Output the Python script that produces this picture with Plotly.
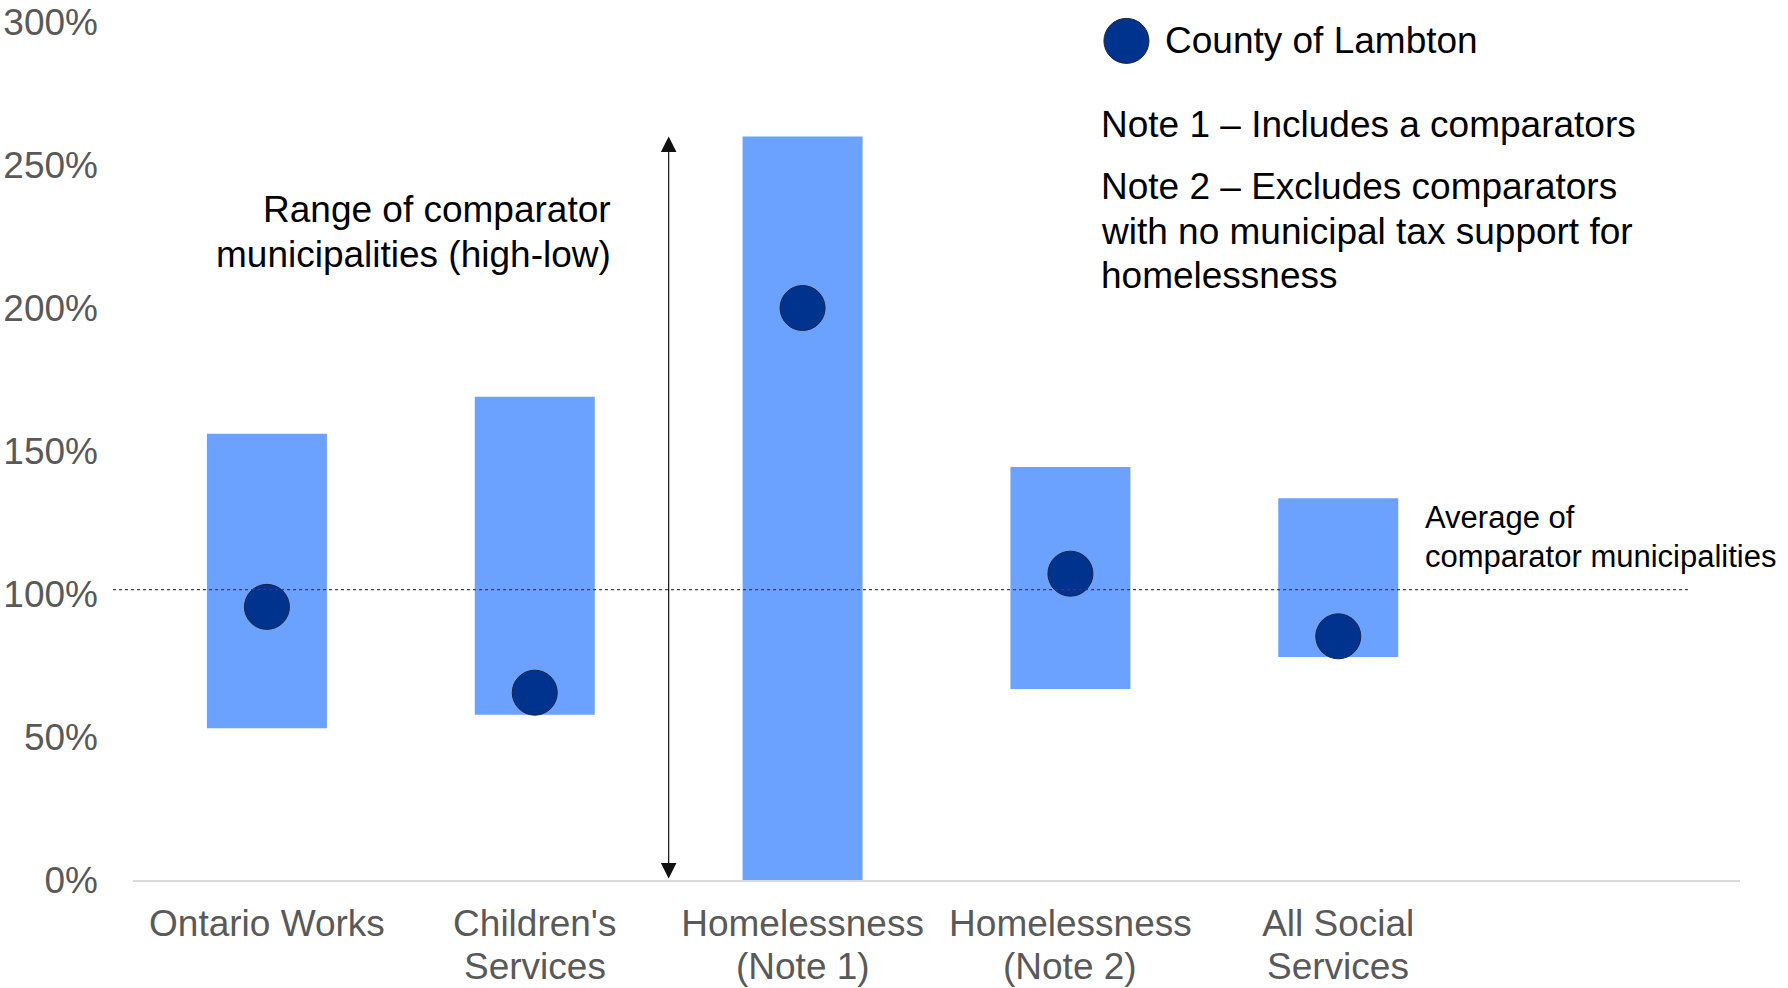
import plotly.graph_objects as go

categories = ["Ontario Works", "Children's<br>Services", "Homelessness<br>(Note 1)",
              "Homelessness<br>(Note 2)", "All Social<br>Services"]
range_low = [53.1, 57.8, 0.0, 66.8, 78.0]
range_high = [156.0, 169.0, 260.0, 144.4, 133.5]
lambton = [95.5, 65.5, 200.0, 107.1, 85.2]
average_line = 101.5
y_ticks = [0, 50, 100, 150, 200, 250, 300]
y_tick_labels = [f"{v}%" for v in y_ticks]

range_text = ["Range of comparator", "municipalities (high-low)"]
note1_text = "Note 1 – Includes a comparators"
note2_text = ["Note 2 – Excludes comparators", "with no municipal tax support for", "homelessness"]
average_text = ["Average of", "comparator municipalities"]
legend_text = "County of Lambton"

xpos = list(range(len(categories)))
FONT = "Arial, Liberation Sans, sans-serif"
BAR = "#6BA1FF"
DOT = "#00338D"
BLACK = "#000000"
GREY = "#595959"

fig = go.Figure()
fig.add_trace(go.Bar(
    x=xpos, y=[h - l for h, l in zip(range_high, range_low)], base=range_low,
    width=0.448, marker=dict(color=BAR, line=dict(width=0)), showlegend=False,
    hoverinfo="skip"))
fig.add_trace(go.Scatter(
    x=xpos, y=lambton, mode="markers", name=legend_text,
    marker=dict(size=45, color=DOT, line=dict(color="#1a2540", width=1)),
    showlegend=False))

# average line
fig.add_shape(type="line", xref="paper", yref="y", x0=-0.0124, x1=0.9676,
              y0=average_line, y1=average_line,
              line=dict(color="#404040", width=1.2, dash="dot"))

# range arrow (spans the Homelessness Note 1 range)
fig.add_annotation(x=1.5, y=range_high[2], ax=1.5, ay=range_low[2],
                   xref="x", yref="y", axref="x", ayref="y", text="",
                   showarrow=True, arrowhead=2, startarrowhead=2, arrowside="end+start",
                   arrowsize=2.6, startarrowsize=2.6, arrowwidth=1.2, arrowcolor="#111111")

# legend (drawn manually for a large marker)
fig.add_shape(type="circle", xref="paper", yref="paper", xsizemode="pixel", ysizemode="pixel",
              xanchor=0.6182, yanchor=0.978, x0=-22.5, x1=22.5, y0=-22.5, y1=22.5,
              fillcolor=DOT, line=dict(color="#1a2540", width=1))


def txt(x, y, s, size, xanchor="left", xref="paper", color=BLACK):
    fig.add_annotation(xref=xref, yref="paper", x=x, y=y, xanchor=xanchor, yanchor="middle",
                       align="left" if xanchor == "left" else xanchor, text=s, showarrow=False,
                       font=dict(family=FONT, size=size, color=color))


txt(0.641, 0.979, legend_text, 37)
txt(0.6014, 0.880, note1_text, 37)
for s, y in zip(note2_text, [0.8082, 0.7564, 0.7045]):
    txt(0.6014, y, s, 37)
for s, y in zip(range_text, [0.7809, 0.7296]):
    txt(0.299, y, s, 37, xanchor="right")
for s, y in zip(average_text, [0.4221, 0.3770]):
    txt(0.803, y, s, 31)

# category labels: first line as tick label, second line set just beneath it
first_lines = [c.split("<br>")[0] for c in categories]
for x, c in zip(xpos, categories):
    parts = c.split("<br>")
    if len(parts) > 1:
        txt(x, -0.101, parts[1], 37, xanchor="center", xref="x", color=GREY)

fig.update_layout(
    width=1788, height=988,
    margin=dict(l=133, r=48, t=22, b=108, autoexpand=False),
    paper_bgcolor="white", plot_bgcolor="white",
    font=dict(family=FONT),
    xaxis=dict(range=[-0.5, 5.5], tickvals=xpos, ticktext=first_lines, showgrid=False,
               zeroline=False, showline=True, linecolor="#D9D9D9", linewidth=2,
               ticks="", tickfont=dict(size=37, color=GREY), ticklabelstandoff=10,
               ticklabeloverflow="allow", automargin=False),
    yaxis=dict(range=[0, 300], tickvals=y_ticks, ticktext=y_tick_labels, showgrid=False,
               zeroline=False, showline=False, ticks="",
               tickfont=dict(size=37, color=GREY), ticklabelstandoff=34,
               ticklabeloverflow="allow", automargin=False),
)

# remove the browser's default page margin so the figure fills the window exactly
fig.write_html("out.html", config={"displayModeBar": False},
               post_script="document.body.style.margin='0';document.body.style.overflow='hidden';")
